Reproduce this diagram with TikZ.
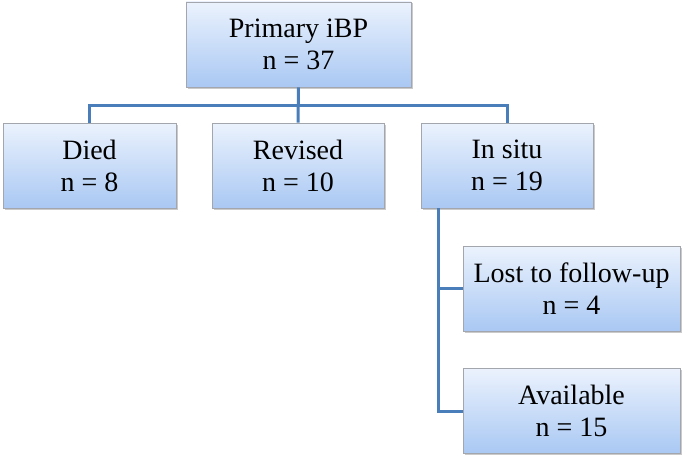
\documentclass[tikz,border=0pt]{standalone}
\usepackage{fontspec}
\setmainfont{Liberation Serif}
\usetikzlibrary{shadows}
\definecolor{boxtop}{HTML}{EBF2FD}
\definecolor{boxbottom}{HTML}{A9C8F3}
\definecolor{boxline}{HTML}{A3A7AD}
\definecolor{linkblue}{HTML}{4A7EBB}
\tikzset{
	group/.style = {draw=boxline, line width=0.8pt, top color=boxtop, bottom color=boxbottom,
		align=center, font=\fontsize{28}{32}\selectfont, inner sep=0pt,
		drop shadow={shadow xshift=1.5pt, shadow yshift=-1.5pt, opacity=0.35, fill=black!60}},
	link/.style = {draw=linkblue, line width=3pt}
}

\begin{document}
\begin{tikzpicture}[x=1pt, y=-1pt]
					\useasboundingbox (0,0) rectangle (685,460);
					% ====== Boxes ========
					\node[group, minimum width=225pt, minimum height=85pt] (primary) at (298.5,44.5) {Primary iBP\\n = 37};
					\node[group, minimum width=173pt, minimum height=85pt] (died) at (89.5,165.5) {Died\\n = 8};
					\node[group, minimum width=172pt, minimum height=85pt] (revised) at (298,165.5) {Revised\\n = 10};
					\node[group, minimum width=172pt, minimum height=85pt] (insitu) at (507,165.5) {In situ\\n = 19};
					\node[group, minimum width=217pt, minimum height=85pt] (lost) at (571.5,288.5) {Lost to follow-up\\n = 4};
					\node[group, minimum width=217pt, minimum height=85pt] (available) at (571.5,411) {Available\\n = 15};
					% ====== Links ========
					\coordinate (bar) at (298,105);
					\coordinate (trunk) at (438,208);
					\draw[link] (primary.south) -- (revised.north);
					\draw[link] (died.north) |- (bar) -| (insitu.north);
					\draw[link] (trunk |- insitu.south) |- (available.west);
					\draw[link] (trunk |- lost.west) -- (lost.west);
				\end{tikzpicture}
\end{document}
